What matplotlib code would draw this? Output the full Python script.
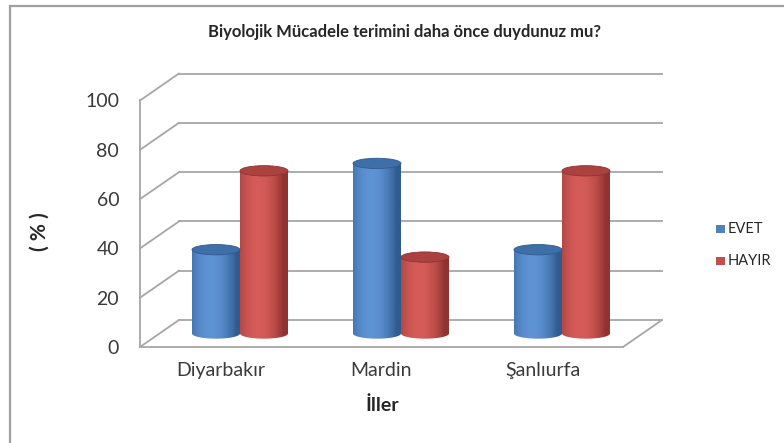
import matplotlib
matplotlib.use('Agg')
import matplotlib.pyplot as plt
import numpy as np
from matplotlib.patches import Ellipse, Polygon, Rectangle

plt.rcParams['font.family'] = ['Lato', 'DejaVu Sans']

# data
iller = ['Diyarbakır', 'Mardin', 'Şanlıurfa']
evet = [34, 69, 34]
hayir = [66, 31, 66]
seriler = ['EVET', 'HAYIR']
yticks = [0, 20, 40, 60, 80, 100]

# pixel mapping of the reference (front axis at x=140px, 0 at y=347px)
W, H = 784, 443
x0, sx = 140, 161.0
y0, sy = 347, 2.465
dx, dy = 39 / sx, 27 / sy   # depth offset of the back wall

fig = plt.figure(figsize=(W / 100, H / 100), dpi=100)
ax = fig.add_axes([0, 0, 1, 1])
xlim = (-x0 / sx, (W - x0) / sx)
ylim = ((y0 - H) / sy, y0 / sy)

grid_c = '#a6a6a6'
# back wall + side wall grid
for v in yticks:
    ax.plot([dx, 3 + dx], [v + dy, v + dy], color=grid_c, lw=1.3, zorder=1)
    ax.plot([0, dx], [v, v + dy], color=grid_c, lw=1.3, zorder=1)
ax.plot([3, 3 + dx], [0, dy], color=grid_c, lw=1.3, zorder=1)

# front axis using the spines
for s in ['top', 'right']:
    ax.spines[s].set_visible(False)
ax.spines['left'].set_position(('data', 0))
ax.spines['left'].set_bounds(0, 100)
ax.spines['bottom'].set_position(('data', 0))
ax.spines['bottom'].set_bounds(0, 3)
for s in ['left', 'bottom']:
    ax.spines[s].set_color(grid_c)
    ax.spines[s].set_linewidth(1.3)
ax.set_yticks(yticks)
ax.set_yticklabels([str(v) for v in yticks], fontsize=14, color='#3a3a3a')
ax.set_xticks([0.5, 1.5, 2.5])
ax.set_xticklabels(iller, fontsize=14, color='#3a3a3a')
ax.tick_params(axis='y', length=0, pad=15)
ax.tick_params(axis='x', length=0, pad=11)


def cylinder(cx, val, w, light, dark, top_c):
    h = 4.2
    base = dy / 2
    top = val + dy / 2
    t = np.linspace(np.pi, 2 * np.pi, 60)
    pts = [(cx + w / 2 * np.cos(a), base + h / 2 * np.sin(a)) for a in t]
    pts += [(cx + w / 2, top), (cx - w / 2, top)]
    body = Polygon(pts, closed=True, facecolor='none', edgecolor='none', zorder=3)
    ax.add_patch(body)
    u = np.linspace(0, 1, 80)
    k = np.clip(np.cos((u - 0.38) * np.pi * 0.95), 0, 1) ** 0.8
    light = np.array(matplotlib.colors.to_rgb(light))
    dark = np.array(matplotlib.colors.to_rgb(dark))
    img = dark[None, :] + (light - dark)[None, :] * k[:, None]
    im = ax.imshow(img[None, :, :], extent=[cx - w / 2, cx + w / 2, base - h, top],
                   aspect='auto', zorder=3, interpolation='bilinear')
    im.set_clip_path(body)
    ax.add_patch(Ellipse((cx, top), w, h, facecolor=top_c, edgecolor=dark,
                         lw=0.6, zorder=4))


bw = 48 / sx
for i in range(len(iller)):
    c = i + 0.5 + dx / 2
    cylinder(c - bw / 2, evet[i], bw, '#5e93d4', '#2f5b8f', '#3f6fa9')
    cylinder(c + bw / 2, hayir[i], bw, '#d65c59', '#8f3331', '#aa4240')

ax.set_xlim(*xlim)
ax.set_ylim(*ylim)


def fy(ypx):
    return 1 - ypx / H


fig.text(405 / W, fy(32), 'Biyolojik Mücadele terimini daha önce duydunuz mu?',
         ha='center', va='center', fontsize=12, fontweight='bold', color='#262626')
fig.text(40 / W, fy(232), '( % )', ha='center', va='center', rotation=90,
         fontsize=15, fontweight='bold', color='#262626')
fig.text(382 / W, fy(405), 'İller', ha='center', va='center',
         fontsize=14, fontweight='bold', color='#262626')

# legend
for j, (lab, col) in enumerate(zip(seriler, ['#4f81bd', '#c0504d'])):
    yc = 229 + 32 * j
    fig.patches.append(Rectangle((716 / W, fy(yc + 4)), 9 / W, 8 / H, facecolor=col,
                                 edgecolor='none', transform=fig.transFigure, figure=fig))
    fig.text(728 / W, fy(yc), lab, ha='left', va='center', fontsize=10.5, color='#262626')

# outer border
fig.add_artist(plt.Line2D([10 / W, 10 / W], [0, fy(6)], color='#a0a0a0', lw=1.6,
                          transform=fig.transFigure))
fig.add_artist(plt.Line2D([10 / W, 1], [fy(6), fy(6)], color='#a0a0a0', lw=1.6,
                          transform=fig.transFigure))

fig.savefig('out.png', dpi=100)
